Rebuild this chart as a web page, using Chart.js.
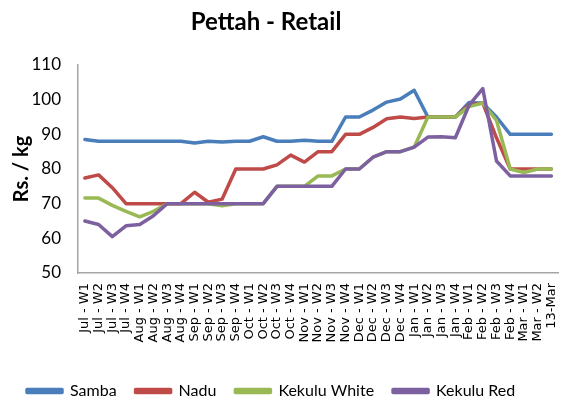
<!DOCTYPE html>
<html>
<head>
<meta charset="utf-8">
<script src="https://cdn.jsdelivr.net/npm/chart.js@4.4.1/dist/chart.umd.min.js"></script>
<style>
html,body{margin:0;padding:0;background:#fff;}
#wrap{position:relative;width:577px;height:410px;}
</style>
</head>
<body>
<div id="wrap"><canvas id="c" width="577" height="410"></canvas></div>
<script>
const categories = ["Jul - W1","Jul - W2","Jul - W3","Jul - W4","Aug - W1","Aug - W2","Aug - W3","Aug - W4","Sep - W1","Sep - W2","Sep - W3","Sep - W4","Oct - W1","Oct - W2","Oct - W3","Oct - W4","Nov - W1","Nov - W2","Nov - W3","Nov - W4","Dec - W1","Dec - W2","Dec - W3","Dec - W4","Jan - W1","Jan - W2","Jan - W3","Jan - W4","Feb - W1","Feb - W2","Feb - W3","Feb - W4","Mar - W1","Mar - W2","13-Mar"];
const samba = [88.5,88,88,88,88,88,88,88,87.5,88,87.8,88,88,89.3,88,88,88.3,88,88,95,95,97,99.3,100.2,102.7,95,95,95,99.2,99,95,90,90,90,90];
const nadu = [77.4,78.3,74.6,70,70,70,70,70,73.3,70.4,71.3,80,80,80,81.2,84,82,85,85,90,90,92,94.5,95,94.6,95,95,95,98.5,99,89,80,80,80,80];
const kekuluWhite = [71.6,71.6,69.5,67.8,66.2,67.8,70,70,70,70,69.4,70,70,70,75,75,75,78,78,80,80,83.4,85,85,86.3,95,95,95,98,99,94,80,79,80,80];
const kekuluRed = [65,64,60.5,63.6,64,66.5,70,70,70,70,70,70,70,70,75,75,75,75,75,80,80,83.4,85,85,86.3,89.2,89.3,89,98.4,103.2,82.3,78,78,78,78];
const yTicks = [50,60,70,80,90,100,110];
const titleText = 'Pettah - Retail';

const colors = ["#4A7EBB","#BE4B48","#98B954","#7D60A0"];
const names = ["Samba","Nadu","Kekulu White","Kekulu Red"];
const series = [samba, nadu, kekuluWhite, kekuluRed];

const datasets = series.map((d,i)=>({
  label: names[i],
  data: d,
  borderColor: colors[i],
  backgroundColor: colors[i],
  borderWidth: 3.5,
  pointRadius: 0,
  tension: 0,
  order: 4 - i,
  borderJoinStyle: 'round',
  borderCapStyle: 'round'
}));

const titlePlugin = {
  id: 'offsetTitle',
  afterDraw(chart) {
    const ctx = chart.ctx;
    ctx.save();
    ctx.fillStyle = '#000';
    ctx.font = 'bold 24px Lato';
    ctx.textAlign = 'center';
    ctx.textBaseline = 'alphabetic';
    ctx.fillText(titleText, 266, 30);
    ctx.restore();
  }
};

new Chart(document.getElementById('c'), {
  type: 'line',
  data: { labels: categories, datasets },
  plugins: [titlePlugin],
  options: {
    responsive: false,
    animation: false,
    devicePixelRatio: 1,
    layout: { padding: { left: 8, right: 1, top: 65, bottom: 1 } },
    plugins: {
      title: { display: false },
      legend: {
        position: 'bottom',
        align: 'start',
        labels: {
          color: '#000',
          font: { family: 'Lato', size: 16 },
          boxWidth: 35,
          boxHeight: 3,
          padding: 19,
          sort: (a,b) => a.datasetIndex - b.datasetIndex
        }
      },
      tooltip: { enabled: false }
    },
    scales: {
      x: {
        offset: true,
        grid: { display: false, drawTicks: false },
        border: { color: '#A6A6A6', width: 1.5 },
        afterFit: (axis) => { axis.height = 91; },
        ticks: {
          autoSkip: false,
          maxRotation: 90,
          minRotation: 90,
          color: '#000',
          font: { family: 'DejaVu Sans', size: 13 },
          padding: 10
        }
      },
      y: {
        min: 50,
        max: 110,
        afterBuildTicks: (axis) => { axis.ticks = yTicks.map(v => ({ value: v })); },
        afterFit: (axis) => { axis.width = 70; },
        grid: { display: false, drawTicks: false },
        border: { color: '#A6A6A6', width: 1.5 },
        ticks: {
          color: '#000',
          font: { family: 'Lato', size: 17 },
          padding: 17
        },
        title: {
          display: true,
          text: 'Rs. / kg',
          color: '#000',
          font: { family: 'Lato', size: 20, weight: 'bold' },
          padding: { top: 2, bottom: 0 }
        }
      }
    }
  }
});
</script>
</body>
</html>
